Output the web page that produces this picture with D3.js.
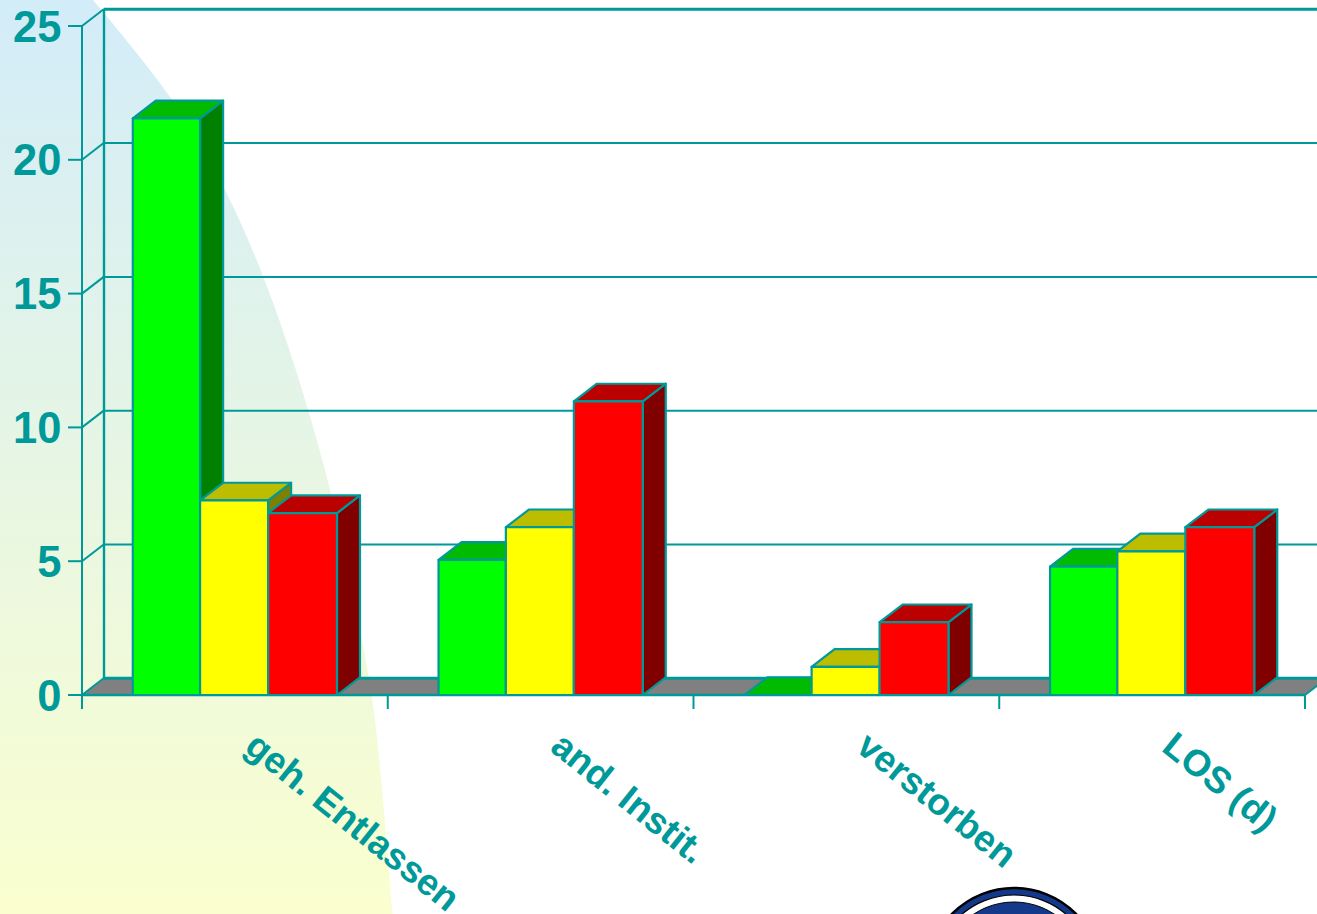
<!DOCTYPE html>
<html><head><meta charset="utf-8">
<style>html,body{margin:0;padding:0;background:#fff;overflow:hidden}svg{display:block}</style>
<script src="https://cdn.jsdelivr.net/npm/d3@7"></script></head><body>
<script>
const categories = ["geh. Entlassen","and. Instit.","verstorben","LOS (d)"];
const seriesGreen = [21.55,5.05,0,4.8];
const seriesYellow = [7.27,6.27,1.05,5.37];
const seriesRed = [6.8,10.97,2.72,6.27];
const yTicks = [0,5,10,15,20,25];
const barColors = [["#00ff00","#00bb00","#008000"],["#ffff00","#bdbd00","#808000"],["#ff0000","#bb0000","#800000"]];
const W=1317,H=914,teal="#009999";
const x0=82,x1=1305,y0=695,yTop=26,dx=22,dy=-17;
const svg=d3.select("body").append("svg").attr("width",W).attr("height",H);
const defs=svg.append("defs");
const g=defs.append("linearGradient").attr("id","bg").attr("x1",0).attr("x2",0).attr("y1",0).attr("y2",1);
g.append("stop").attr("offset",0).attr("stop-color","#d2ecf9");
g.append("stop").attr("offset",1).attr("stop-color","#fbffcf");
const curve=d3.line().curve(d3.curveCatmullRom.alpha(0.5));
const edge=[[88,-6],[170,97],[225,190],[272,300],[325,470],[362,640],[375,720],[393,920]];
svg.append("path").attr("d",curve(edge)+"L0,920L0,-6Z").attr("fill","url(#bg)");

const y=d3.scaleLinear().domain([0,25]).range([y0,yTop]);
const xBand=d3.scaleBand().domain(categories).range([x0,x1]);
const inner=d3.scaleBand().domain([0,1,2]).range([51,255]);
// floor
svg.append("path").attr("d",`M${x0},${y0}L${x0+dx},${y0+dy}L${x1+dx},${y0+dy}L${x1},${y0}Z`).attr("fill","#808080");
svg.append("line").attr("x1",x1).attr("y1",y0).attr("x2",x1+dx).attr("y2",y0+dy).attr("stroke",teal).attr("stroke-width",2);
// grid
svg.selectAll(".grid").data(yTicks).join("line").attr("x1",x0+dx).attr("x2",W+5)
 .attr("y1",d=>y(d)+dy+0.3).attr("y2",d=>y(d)+dy+0.3).attr("stroke",teal).attr("stroke-width",d=>(d===25||d===0)?3:2);
svg.selectAll(".gridd").data(yTicks).join("line").attr("x1",x0).attr("x2",x0+dx)
 .attr("y1",d=>y(d)).attr("y2",d=>y(d)+dy).attr("stroke",teal).attr("stroke-width",2);
// axes
svg.append("line").attr("x1",x0+dx).attr("x2",x0+dx).attr("y1",y(25)+dy).attr("y2",y0+dy).attr("stroke",teal).attr("stroke-width",2.4);
svg.append("line").attr("x1",x0).attr("x2",x0).attr("y1",y(25)).attr("y2",y0+14).attr("stroke",teal).attr("stroke-width",2);
svg.append("line").attr("x1",x0).attr("x2",x1).attr("y1",y0).attr("y2",y0).attr("stroke",teal).attr("stroke-width",2.4);
svg.selectAll(".ty").data(yTicks).join("line").attr("x1",x0-14).attr("x2",x0).attr("y1",d=>y(d)).attr("y2",d=>y(d)).attr("stroke",teal).attr("stroke-width",2);
svg.selectAll(".tx").data(categories).join("line").attr("x1",d=>xBand(d)+xBand.bandwidth()).attr("x2",d=>xBand(d)+xBand.bandwidth()).attr("y1",y0).attr("y2",y0+14).attr("stroke",teal).attr("stroke-width",2);
// bars
const barDx=23, barDy=-17.7;
const series=[seriesGreen,seriesYellow,seriesRed];
categories.forEach((c,ci)=>{
 series.forEach((s,si)=>{
  const v=s[ci],l=xBand(c)+inner(si)-(si===0?0.2:0.9),r=xBand(c)+inner(si)+inner.bandwidth()-(si===2?0:0.9),t=y(v),cols=barColors[si];
  const gb=svg.append("g").attr("stroke",teal).attr("stroke-width",2.2).attr("stroke-linejoin","round");
  gb.append("path").attr("d",`M${r},${t}L${r+barDx},${t+barDy}L${r+barDx},${y0+barDy}L${r},${y0}Z`).attr("fill",cols[2]);
  gb.append("path").attr("d",`M${l},${t}L${l+barDx},${t+barDy}L${r+barDx},${t+barDy}L${r},${t}Z`).attr("fill",cols[1]);
  gb.append("rect").attr("x",l).attr("y",t).attr("width",r-l).attr("height",y0-t).attr("fill",cols[0]);
 });
});
// labels
const font="'Liberation Sans',Arial,sans-serif";
svg.selectAll(".yl").data(yTicks).join("text").attr("x",x0-20.5).attr("y",d=>y(d)+15.5).attr("text-anchor","end")
 .attr("font-family",font).attr("font-weight",700).attr("font-size",43.5).attr("fill",teal).text(d=>d);
svg.selectAll(".xl").data(categories).join("text")
 .attr("transform",d=>`translate(${xBand(d)+xBand.bandwidth()/2+8},750) rotate(38.6)`)
 .attr("font-family",font).attr("font-weight",700).attr("font-size",37).attr("fill",teal).text(d=>d);
// logo
const lg=svg.append("g").attr("transform","translate(1014,975)");
lg.append("circle").attr("r",87).attr("fill","#14388a").attr("stroke","#000").attr("stroke-width",2.5);
lg.append("circle").attr("r",80).attr("fill","#fff").attr("stroke","#000").attr("stroke-width",1.2);
lg.append("circle").attr("r",73).attr("fill","#14388a").attr("stroke","#000").attr("stroke-width",1);
</script></body></html>
